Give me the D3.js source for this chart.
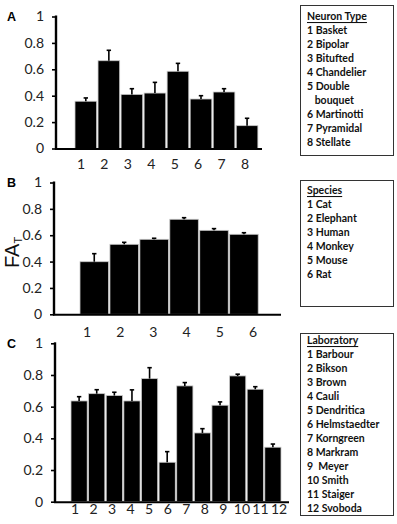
<!DOCTYPE html>
<html><head><meta charset="utf-8">
<script src="https://cdn.jsdelivr.net/npm/d3@7"></script>
<style>
html,body{margin:0;padding:0;background:#fff;}
svg{display:block;}
.tick text{font-family:Lato,"Open Sans",sans-serif;font-size:14px;fill:#222;}
.lg{font-family:Lato,"Open Sans",sans-serif;font-weight:bold;font-size:10.5px;fill:#111;white-space:pre;}
</style></head>
<body>
<script>
// ---------- data ----------
const yTicks = [0, 0.2, 0.4, 0.6, 0.8, 1];

const neuronCats = ["1","2","3","4","5","6","7","8"];
const neuronValues = [0.358, 0.665, 0.410, 0.420, 0.585, 0.375, 0.428, 0.173];
const neuronErrors = [0.025, 0.079, 0.043, 0.081, 0.060, 0.025, 0.025, 0.056];
const neuronLegend = ["Neuron Type","1 Basket","2 Bipolar","3 Bitufted","4 Chandelier","5 Double","   bouquet","6 Martinotti","7 Pyramidal","8 Stellate"];

const speciesCats = ["1","2","3","4","5","6"];
const speciesValues = [0.399, 0.531, 0.569, 0.721, 0.637, 0.607];
const speciesErrors = [0.061, 0.015, 0.008, 0.012, 0.013, 0.012];
const speciesLegend = ["Species","1 Cat","2 Elephant","3 Human","4 Monkey","5 Mouse","6 Rat"];

const labCats = ["1","2","3","4","5","6","7","8","9","10","11","12"];
const labValues = [0.636, 0.682, 0.670, 0.636, 0.777, 0.249, 0.731, 0.434, 0.609, 0.794, 0.710, 0.344];
const labErrors = [0.027, 0.025, 0.021, 0.070, 0.069, 0.067, 0.021, 0.027, 0.021, 0.011, 0.016, 0.020];
const labLegend = ["Laboratory","1 Barbour","2 Bikson","3 Brown","4 Cauli","5 Dendritica","6 Helmstaedter","7 Korngreen","8 Markram","9  Meyer","10 Smith","11 Staiger","12 Svoboda"];

// ---------- drawing ----------
const svg = d3.select("body").append("svg").attr("width", 397).attr("height", 524);

function panel(o) {
  const g = svg.append("g");
  const y = d3.scaleLinear().domain([0, 1]).range([o.y0, o.y1]);
  const n = o.cats.length;
  const x = d3.scaleBand().domain(o.cats)
    .range([o.barStart, o.barStart + n * o.step]).paddingInner(o.gap / o.step).paddingOuter(0);
  const xl = d3.scalePoint().domain(o.cats).range(o.labelRange);

  // bars
  g.selectAll("rect.bar").data(o.values).enter().append("rect")
    .attr("x", (d, i) => x(o.cats[i]))
    .attr("y", d => y(d))
    .attr("width", x.bandwidth())
    .attr("height", d => y(0) - y(d))
    .attr("fill", "#000")
    .attr("stroke", "#c8c8c8").attr("stroke-width", 0.8);

  // error bars
  const eb = g.selectAll("g.eb").data(o.values).enter().append("g");
  eb.append("line")
    .attr("x1", (d, i) => x(o.cats[i]) + x.bandwidth() / 2)
    .attr("x2", (d, i) => x(o.cats[i]) + x.bandwidth() / 2)
    .attr("y1", d => y(d))
    .attr("y2", (d, i) => y(d + o.errors[i]))
    .attr("stroke", "#000").attr("stroke-width", 1.6);
  eb.append("line")
    .attr("x1", (d, i) => x(o.cats[i]) + x.bandwidth() / 2 - 2.2)
    .attr("x2", (d, i) => x(o.cats[i]) + x.bandwidth() / 2 + 2.2)
    .attr("y1", (d, i) => y(d + o.errors[i]))
    .attr("y2", (d, i) => y(d + o.errors[i]))
    .attr("stroke", "#000").attr("stroke-width", 1.6);

  // y axis
  const ya = g.append("g").attr("transform", `translate(${o.axisX},0)`)
    .call(d3.axisLeft(y).tickValues(yTicks).tickSize(4).tickPadding(8)
      .tickFormat(d => d3.format("")(+d.toFixed(1))));
  ya.select(".domain").attr("stroke", "#000").attr("stroke-width", 2.4)
    .attr("d", `M0,${o.y0 + 1}V${o.y1 - 1}`);
  ya.selectAll(".tick line").attr("stroke", "#000").attr("stroke-width", 1.6);

  // x axis line
  g.append("line").attr("x1", o.axisX - 1).attr("x2", o.axisEnd)
    .attr("y1", o.y0 + 0.5).attr("y2", o.y0 + 0.5)
    .attr("stroke", "#000").attr("stroke-width", 2);

  // category labels
  g.selectAll("text.cl").data(o.cats).enter().append("text")
    .attr("class", "cl")
    .attr("x", d => xl(d)).attr("y", o.labelY)
    .attr("text-anchor", "middle").attr("dominant-baseline", "central")
    .style("font-family", "Lato, 'Open Sans', sans-serif").style("font-size", "14px").attr("fill", "#222")
    .text(d => d);

  // panel letter
  g.append("text").attr("x", 7).attr("y", o.letterY)
    .style("font-family", "'Liberation Sans', Arial, sans-serif").style("font-weight", "bold").style("font-size", "12.5px")
    .text(o.letter);

  // legend
  g.append("rect").attr("x", 300.5).attr("y", o.box[0]).attr("width", 93)
    .attr("height", o.box[1] - o.box[0]).attr("fill", "#fff").attr("stroke", "#333").attr("stroke-width", 1);
  g.selectAll("text.lg").data(o.legend).enter().append("text")
    .attr("class", "lg")
    .attr("x", 307).attr("y", (d, i) => o.legendY + i * 14)
    .attr("dominant-baseline", "central")
    .style("text-decoration", (d, i) => i === 0 ? "underline" : null)
    .text(d => d);
}

panel({letter: "A", letterY: 21, cats: neuronCats, values: neuronValues, errors: neuronErrors,
  y0: 148.5, y1: 16.5, axisX: 56, axisEnd: 262, barStart: 75, step: 22.86, gap: 1.4,
  labelRange: [81, 245], labelY: 163, legend: neuronLegend, box: [5.5, 155.5], legendY: 16});

panel({letter: "B", letterY: 187, cats: speciesCats, values: speciesValues, errors: speciesErrors,
  y0: 314.3, y1: 182.5, axisX: 54, axisEnd: 281, barStart: 80, step: 29.7, gap: 1.4,
  labelRange: [87, 253], labelY: 331, legend: speciesLegend, box: [180.5, 306.5], legendY: 190});

panel({letter: "C", letterY: 348, cats: labCats, values: labValues, errors: labErrors,
  y0: 501.7, y1: 343.3, axisX: 55, axisEnd: 289, barStart: 71, step: 17.5, gap: 1.4,
  labelRange: [75, 279], labelY: 508, legend: labLegend, box: [333.5, 515.5], legendY: 340});

// y-axis title FA_T
const t = svg.append("text")
  .attr("transform", "translate(19,268) rotate(-90)")
  .style("font-family", "'Liberation Sans', Arial, sans-serif").style("font-size", "20px").attr("fill", "#111");
t.append("tspan").text("FA");
t.append("tspan").attr("dy", 3).style("font-size", "11px").text("T");
</script>
</body></html>
